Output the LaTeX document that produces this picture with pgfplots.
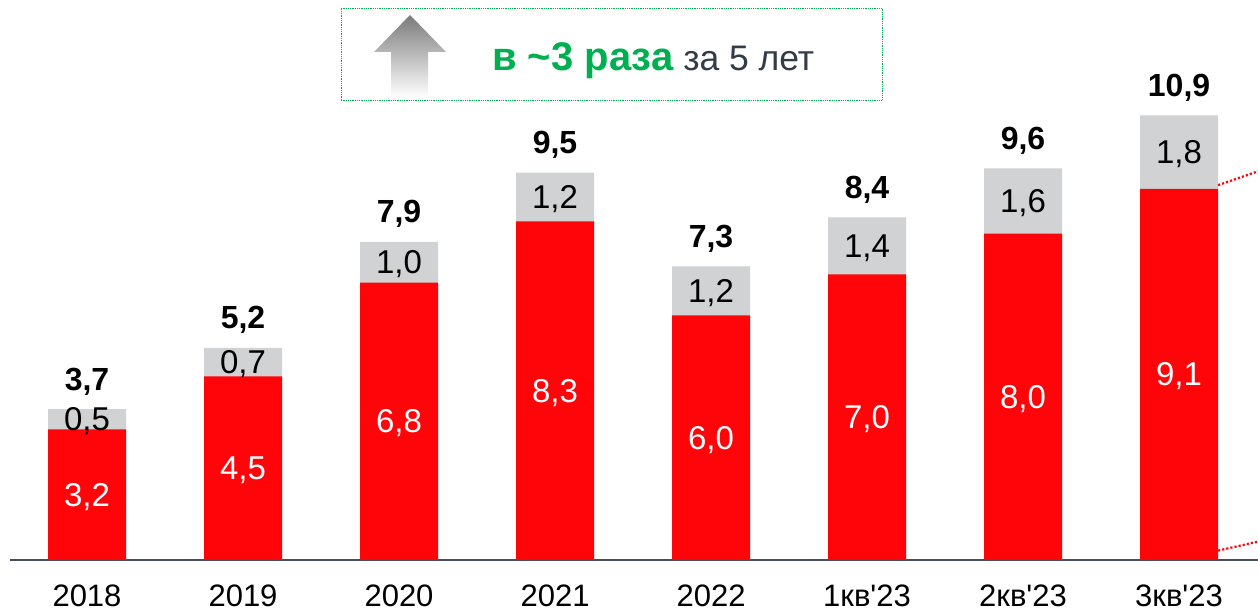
\documentclass[border=0pt]{standalone}
\usepackage{fontspec}
\setmainfont{Liberation Sans}
\usepackage{pgfplots}
\pgfplotsset{compat=1.18}
\usepackage{pgfplotstable}

\definecolor{barred}{RGB}{255,5,10}
\definecolor{bargray}{RGB}{208,210,211}
\definecolor{boxgreen}{RGB}{0,176,80}
\definecolor{darktext}{RGB}{51,60,70}
\definecolor{axisgray}{RGB}{70,78,88}

\pgfplotstableread{
x red gray redlab graylab totlab
0 3.2 0.5 3,2 0,5 3,7
1 4.5 0.7 4,5 0,7 5,2
2 6.8 1.0 6,8 1,0 7,9
3 8.3 1.2 8,3 1,2 9,5
4 6.0 1.2 6,0 1,2 7,3
5 7.0 1.4 7,0 1,4 8,4
6 8.0 1.6 8,0 1,6 9,6
7 9.1 1.8 9,1 1,8 10,9
}\data

\begin{document}
\begin{tikzpicture}
\begin{axis}[
  at={(10pt,52pt)}, anchor=south west,
  scale only axis, width=1248pt, height=560pt,
  xmin=-0.4936, xmax=7.506, ymin=0, ymax=13.73,
  axis y line=none, axis x line*=bottom,
  x axis line style={-, draw=axisgray, line width=1.6pt},
  xtick={0,...,7},
  xticklabels={2018,2019,2020,2021,2022,1кв\textquotesingle23,2кв\textquotesingle23,3кв\textquotesingle23},
  major tick length=0pt,
  xticklabel style={font=\fontsize{31}{31}\selectfont, anchor=base, yshift=-47pt, text=black},
  clip=false,
]
\addplot[ybar, bar width=78pt, bar shift=0pt, fill=bargray, draw=none]
  table[x=x, y expr=\thisrow{red}+\thisrow{gray}] {\data};
\addplot[ybar, bar width=78pt, bar shift=0pt, fill=barred, draw=none]
  table[x=x, y=red] {\data};
% red labels
\addplot[draw=none, mark=none, nodes near coords, point meta=explicit symbolic,
  nodes near coords style={anchor=base, yshift=-11.5pt, inner sep=0pt, text=white, font=\fontsize{33}{33}\selectfont}]
  table[x=x, y expr=\thisrow{red}/2, meta=redlab] {\data};
% gray labels
\addplot[draw=none, mark=none, nodes near coords, point meta=explicit symbolic,
  nodes near coords style={anchor=base, yshift=-11.5pt, inner sep=0pt, text=black, font=\fontsize{33}{33}\selectfont}]
  table[x=x, y expr=\thisrow{red}+\thisrow{gray}/2, meta=graylab] {\data};
% totals
\addplot[draw=none, mark=none, nodes near coords, point meta=explicit symbolic,
  nodes near coords style={anchor=base, yshift=19pt, inner sep=0pt, text=black, font=\fontsize{32}{32}\selectfont\bfseries}]
  table[x=x, y expr=\thisrow{red}+\thisrow{gray}, meta=totlab] {\data};
% dotted connectors
\addplot[barred, dotted, line width=2.2pt] coordinates {(7.25,9.19) (7.506,9.53)};
\addplot[barred, dotted, line width=2.2pt] coordinates {(7.25,0.23) (7.506,0.45)};
\end{axis}
\draw[boxgreen, densely dotted, line width=0.8pt] (341pt,512pt) rectangle (882pt,604pt);
\shade[top color=black!52, bottom color=white]
  (391pt,515pt) -- (391pt,560pt) -- (374pt,560pt) -- (410pt,597pt) -- (446pt,560pt) -- (428pt,560pt) -- (428pt,515pt) -- cycle;
\node[anchor=base west, inner sep=0pt] at (492pt,541pt)
  {\textcolor{boxgreen}{\fontsize{40}{40}\selectfont\bfseries в \textasciitilde3 раза}\textcolor{darktext}{\fontsize{35.5}{35.5}\selectfont\ за 5 лет}};
\pgfresetboundingbox
\path[use as bounding box] (0,0) rectangle (1258pt,612pt);
\end{tikzpicture}
\end{document}
